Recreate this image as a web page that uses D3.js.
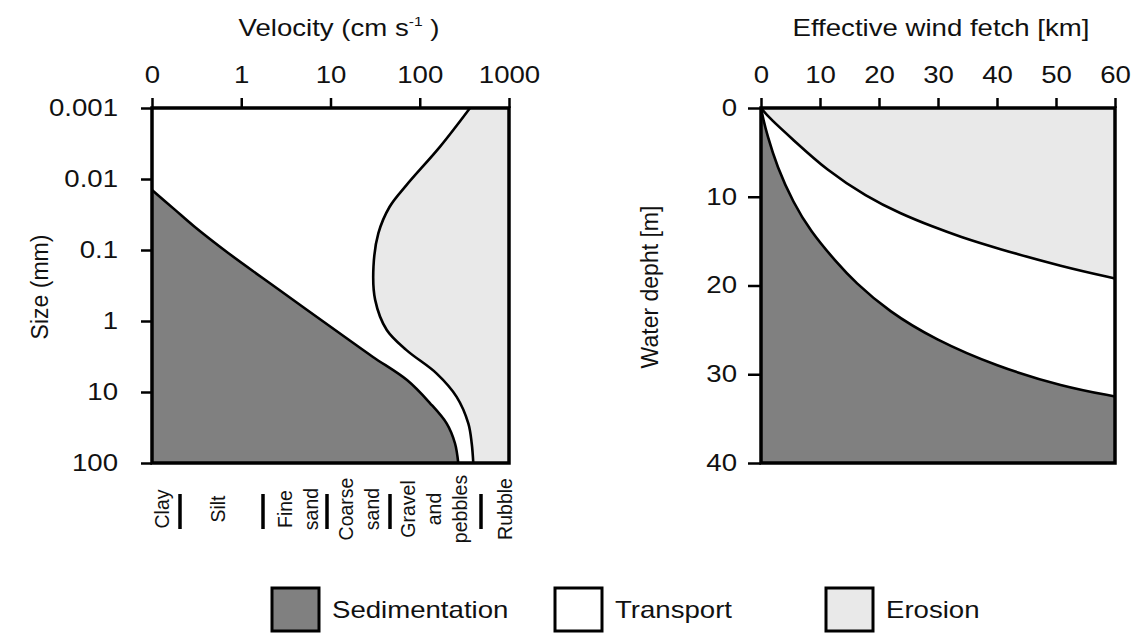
<!DOCTYPE html>
<html>
<head>
<meta charset="utf-8">
<script src="https://cdn.jsdelivr.net/npm/d3@7"></script>
<style>
  body { margin: 0; background: #fff; }
  text { font-family: "Liberation Sans", Arial, sans-serif; fill: #111; }
</style>
</head>
<body>
<svg id="chart"></svg>
<script>
// ---- data ----
// left panel: velocity (cm/s, log, "0" drawn at 0.1) vs grain size (mm, log)
const velocityTicks = [0.1, 1, 10, 100, 1000];
const sizeTicks = [0.001, 0.01, 0.1, 1, 10, 100];
// sedimentation limit: [velocity, size]
const sedLimit = [
  [0.1, 0.0143], [0.18, 0.027], [0.30, 0.047], [0.72, 0.111], [2.58, 0.354],
  [14.5, 1.68], [29.9, 3.21], [72, 6.8], [130, 14.3], [200, 27.7], [248, 52.7], [270, 100]
];
// erosion limit: [velocity, size]
const erosionLimit = [
  [366, 0.001], [169, 0.0035], [71, 0.0122], [46, 0.0246], [34.4, 0.058], [30.3, 0.172],
  [31.6, 0.50], [42.7, 1.34], [71, 2.57], [155, 5.5], [259, 11.7], [350, 27.7], [382, 52.7], [398, 100]
];
const grainClasses = [["Clay"], ["Silt"], ["Fine", "sand"], ["Coarse", "sand"], ["Gravel", "and", "pebbles"], ["Rubble"]];

// right panel: wind fetch (km) vs water depth (m)
const fetchTicks = [0, 10, 20, 30, 40, 50, 60];
const depthTicks = [0, 10, 20, 30, 40];
const erosionDepth = [
  [0, 0], [1.5, 1.2], [5.5, 3.6], [11.1, 7.0], [17.9, 10.0], [23.6, 11.9], [29.2, 13.4],
  [33.7, 14.5], [39.9, 15.8], [51.2, 17.9], [60, 19.2]
];
const sedDepth = [
  [0, 0], [0.4, 1.3], [1.0, 2.9], [2.7, 6.6], [5.5, 10.7], [8.3, 13.8], [12.8, 17.4], [15.9, 19.6],
  [21.6, 22.9], [29.5, 26.1], [39.9, 29.1], [51.2, 31.4], [60, 32.5]
];

const legendItems = ["Sedimentation", "Transport", "Erosion"];
const fills = { Sedimentation: "#808080", Transport: "#ffffff", Erosion: "#e9e9e9" };

// ---- setup ----
const width = 1136, height = 634;
const stretchX = 1.2;   // the source lettering is wide
const svg = d3.select("#chart").attr("width", width).attr("height", height);

// turn x/y placement into translate + horizontal stretch
function stretch(sel) {
  sel.each(function () {
    const t = d3.select(this);
    const x = +t.attr("x") || 0, y = +t.attr("y") || 0;
    t.attr("x", null).attr("y", null)
      .attr("transform", `translate(${x},${y}) scale(${stretchX},1)`);
  });
}
function vtext(g, x, y, size, str) {
  return g.append("text")
    .attr("transform", `translate(${x},${y}) rotate(-90)`)
    .attr("text-anchor", "middle").attr("font-size", size)
    .text(str);
}

// left panel scales
const xL = d3.scaleLog().domain([0.1, 1000]).range([152, 509]);
const yL = d3.scaleLog().domain([0.001, 100]).range([108, 463]);

// right panel scales
const xR = d3.scaleLinear().domain([0, 60]).range([761, 1115]);
const yR = d3.scaleLinear().domain([0, 40]).range([108, 463]);

// ---- left panel ----
const left = svg.append("g");
left.append("rect")
  .attr("x", xL.range()[0]).attr("y", yL.range()[0])
  .attr("width", xL.range()[1] - xL.range()[0])
  .attr("height", yL.range()[1] - yL.range()[0])
  .attr("fill", fills.Transport);

// erosion area: right of erosion limit
left.append("path")
  .datum(erosionLimit)
  .attr("fill", fills.Erosion)
  .attr("d", d3.area()
    .curve(d3.curveCatmullRom)
    .y(d => yL(d[1]))
    .x0(d => xL(d[0]))
    .x1(xL(1000)));

// sedimentation area: left of sed limit
left.append("path")
  .datum(sedLimit)
  .attr("fill", fills.Sedimentation)
  .attr("d", d3.area()
    .curve(d3.curveCatmullRom)
    .y(d => yL(d[1]))
    .x0(xL(0.1))
    .x1(d => xL(d[0])));

const lineL = d3.line().curve(d3.curveCatmullRom).x(d => xL(d[0])).y(d => yL(d[1]));
[sedLimit, erosionLimit].forEach(s => {
  left.append("path").datum(s)
    .attr("fill", "none").attr("stroke", "#000").attr("stroke-width", 2.6)
    .attr("d", lineL);
});

left.append("rect")
  .attr("x", xL.range()[0]).attr("y", yL.range()[0])
  .attr("width", xL.range()[1] - xL.range()[0])
  .attr("height", yL.range()[1] - yL.range()[0])
  .attr("fill", "none").attr("stroke", "#000").attr("stroke-width", 3.5);

left.append("g")
  .attr("transform", `translate(0,${yL.range()[0]})`)
  .call(d3.axisTop(xL).tickValues(velocityTicks)
    .tickFormat(d => d === 0.1 ? "0" : d3.format("d")(d))
    .tickSize(10).tickPadding(15));
left.append("g")
  .attr("transform", `translate(${xL.range()[0]},0)`)
  .call(d3.axisLeft(yL).tickValues(sizeTicks)
    .tickFormat(d => d < 1 ? String(+d.toFixed(3)) : d3.format("d")(d))
    .tickSize(11).tickPadding(23));

const velTitle = left.append("text")
  .attr("x", 339).attr("y", 36)
  .attr("text-anchor", "middle").attr("font-size", 23);
velTitle.append("tspan").text("Velocity (cm s");
velTitle.append("tspan").attr("font-size", 13).attr("dy", -10).text("-1");
velTitle.append("tspan").attr("dy", 10).text(" )");
stretch(velTitle);

vtext(left, 48, 287, 23, "Size (mm)");

// grain class labels below the panel
const classCenters = [162, 218, 298, 358.5, 434, 505];
const classBreaks = [180, 263, 327, 390, 481];
const lineGap = 26;
grainClasses.forEach((lines, k) => {
  const n = lines.length;
  lines.forEach((ln, i) => {
    vtext(left, classCenters[k] + (i - (n - 1) / 2) * lineGap, 509, 19.5, ln)
      .attr("dy", "0.36em");
  });
});
classBreaks.forEach(bx => {
  left.append("line")
    .attr("x1", bx).attr("x2", bx).attr("y1", 494).attr("y2", 529)
    .attr("stroke", "#000").attr("stroke-width", 3.5);
});

// ---- right panel ----
const right = svg.append("g");
right.append("rect")
  .attr("x", xR.range()[0]).attr("y", yR.range()[0])
  .attr("width", xR.range()[1] - xR.range()[0])
  .attr("height", yR.range()[1] - yR.range()[0])
  .attr("fill", fills.Transport);

right.append("path")
  .datum(erosionDepth)
  .attr("fill", fills.Erosion)
  .attr("d", d3.area().curve(d3.curveBasis)
    .x(d => xR(d[0])).y0(yR(0)).y1(d => yR(d[1])));

right.append("path")
  .datum(sedDepth)
  .attr("fill", fills.Sedimentation)
  .attr("d", d3.area().curve(d3.curveBasis)
    .x(d => xR(d[0])).y0(yR(40)).y1(d => yR(d[1])));

const lineR = d3.line().curve(d3.curveBasis).x(d => xR(d[0])).y(d => yR(d[1]));
[erosionDepth, sedDepth].forEach(s => {
  right.append("path").datum(s)
    .attr("fill", "none").attr("stroke", "#000").attr("stroke-width", 2.6)
    .attr("d", lineR);
});

right.append("rect")
  .attr("x", xR.range()[0]).attr("y", yR.range()[0])
  .attr("width", xR.range()[1] - xR.range()[0])
  .attr("height", yR.range()[1] - yR.range()[0])
  .attr("fill", "none").attr("stroke", "#000").attr("stroke-width", 3.5);

right.append("g")
  .attr("transform", `translate(0,${yR.range()[0]})`)
  .call(d3.axisTop(xR).tickValues(fetchTicks).tickSize(10).tickPadding(15));
right.append("g")
  .attr("transform", `translate(${xR.range()[0]},0)`)
  .call(d3.axisLeft(yR).tickValues(depthTicks).tickSize(13).tickPadding(11));

const fetchTitle = right.append("text")
  .attr("x", 941).attr("y", 36)
  .attr("text-anchor", "middle").attr("font-size", 23)
  .text("Effective wind fetch [km]");
stretch(fetchTitle);

vtext(right, 658, 287, 23, "Water depht [m]");

// axis styling
svg.selectAll(".domain").remove();
svg.selectAll(".tick line").attr("stroke", "#000").attr("stroke-width", 2.5);
svg.selectAll(".tick text").attr("font-size", 23).attr("fill", "#111")
  .attr("font-family", "Liberation Sans, Arial, sans-serif");
svg.selectAll(".tick text").call(stretch);

// ---- legend ----
const legendX = [272, 555, 826];
const legend = svg.append("g");
legendItems.forEach((name, i) => {
  const g = legend.append("g").attr("transform", `translate(${legendX[i]},588)`);
  g.append("rect").attr("x", 0).attr("y", 0).attr("width", 47).attr("height", 43)
    .attr("fill", fills[name]).attr("stroke", "#000").attr("stroke-width", 3);
  g.append("text").attr("x", 60).attr("y", 22).attr("dy", "0.35em")
    .attr("font-size", 23).text(name)
    .call(stretch);
});
</script>
</body>
</html>
